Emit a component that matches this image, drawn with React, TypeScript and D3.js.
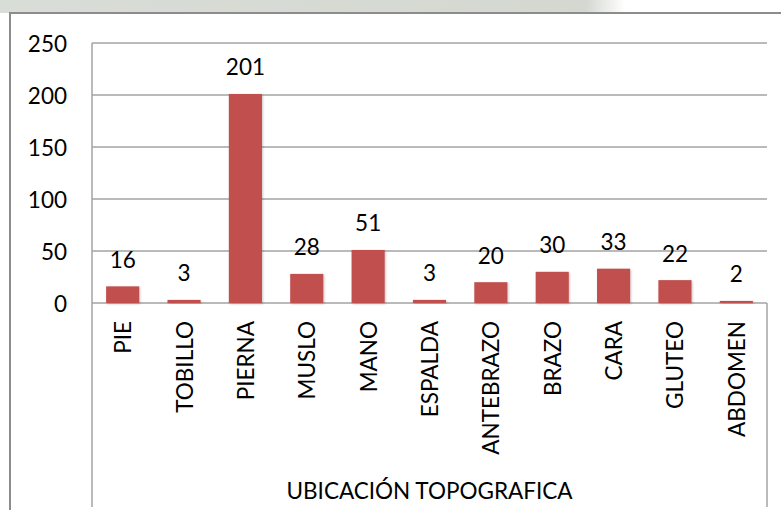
import { useEffect } from "react";
import * as d3 from "d3";

// Categories and counts
const categories = [
  "PIE",
  "TOBILLO",
  "PIERNA",
  "MUSLO",
  "MANO",
  "ESPALDA",
  "ANTEBRAZO",
  "BRAZO",
  "CARA",
  "GLUTEO",
  "ABDOMEN",
];
const counts = [16, 3, 201, 28, 51, 3, 20, 30, 33, 22, 2];
const yTicks = [0, 50, 100, 150, 200, 250];
const axisTitle = "UBICACIÓN TOPOGRAFICA";

const W = 781;
const H = 510;
const font = "Lato, 'Open Sans', sans-serif";
const fs = 22.5;

const App = () => {
  useEffect(() => {
    document.body.style.margin = "0";
  }, []);

  const plot = { left: 92, right: 767, top: 43, bottom: 303 };

  const x = d3
    .scaleBand<string>()
    .domain(categories)
    .range([plot.left, plot.right])
    .paddingInner(0.46)
    .paddingOuter(0.23);

  const y = d3.scaleLinear().domain([0, 250]).range([plot.bottom, plot.top]);

  const data = categories.map((c, i) => ({ cat: c, value: counts[i] }));

  return (
    <svg width={W} height={H} style={{ display: "block" }}>
      <defs>
        <linearGradient id="wm" x1="0" x2="1" y1="0" y2="0">
          <stop offset="0" stopColor="#d9ddd7" />
          <stop offset="0.75" stopColor="#d4d8d1" />
          <stop offset="0.8" stopColor="#ffffff" />
        </linearGradient>
        <filter id="shadow" x="-20%" y="-20%" width="140%" height="140%">
          <feDropShadow dx="1" dy="1" stdDeviation="1.2" floodColor="#000" floodOpacity="0.22" />
        </filter>
      </defs>

      {/* faint background strip above the chart frame */}
      <rect x={0} y={0} width={W} height={13} fill="url(#wm)" />
      <rect x={10} y={13} width={W} height={H} fill="#fff" stroke="#8c8c8c" strokeWidth={2} />

      {/* gridlines */}
      {yTicks.map((t) => (
        <line
          key={t}
          x1={plot.left}
          x2={plot.right}
          y1={y(t)}
          y2={y(t)}
          stroke="#a3a3a3"
          strokeWidth={1.5}
        />
      ))}

      {/* axis frame lines */}
      <line x1={plot.left} x2={plot.left} y1={plot.top} y2={507} stroke="#a3a3a3" strokeWidth={1.5} />
      <line x1={plot.right} x2={plot.right} y1={plot.bottom} y2={507} stroke="#a3a3a3" strokeWidth={1.5} />

      {/* y tick labels */}
      {yTicks.map((t) => (
        <text
          key={t}
          x={67}
          y={y(t)}
          textAnchor="end"
          dominantBaseline="central"
          fontFamily={font}
          fontSize={fs}
          fill="#000"
        >
          {t}
        </text>
      ))}

      {/* bars */}
      {data.map((d) => (
        <rect
          key={d.cat}
          x={x(d.cat)}
          y={y(d.value)}
          width={x.bandwidth()}
          height={plot.bottom - y(d.value)}
          fill="#c0504d"
          filter="url(#shadow)"
        />
      ))}

      {/* value labels */}
      {data.map((d) => (
        <text
          key={d.cat}
          x={(x(d.cat) ?? 0) + x.bandwidth() / 2}
          y={y(d.value) - 27}
          textAnchor="middle"
          dominantBaseline="central"
          fontFamily={font}
          fontSize={fs}
          fill="#000"
        >
          {d.value}
        </text>
      ))}

      {/* category labels, rotated */}
      {categories.map((c) => {
        const cx = (x(c) ?? 0) + x.bandwidth() / 2;
        const cy = 321;
        return (
          <text
            key={c}
            transform={`translate(${cx},${cy}) rotate(-90)`}
            textAnchor="end"
            dominantBaseline="central"
            fontFamily={font}
            fontSize={fs}
            fill="#000"
          >
            {c}
          </text>
        );
      })}

      {/* axis title */}
      <text
        x={(plot.left + plot.right) / 2}
        y={490}
        textAnchor="middle"
        dominantBaseline="central"
        fontFamily={font}
        fontSize={fs}
        fill="#000"
      >
        {axisTitle}
      </text>
    </svg>
  );
};

export default App;
